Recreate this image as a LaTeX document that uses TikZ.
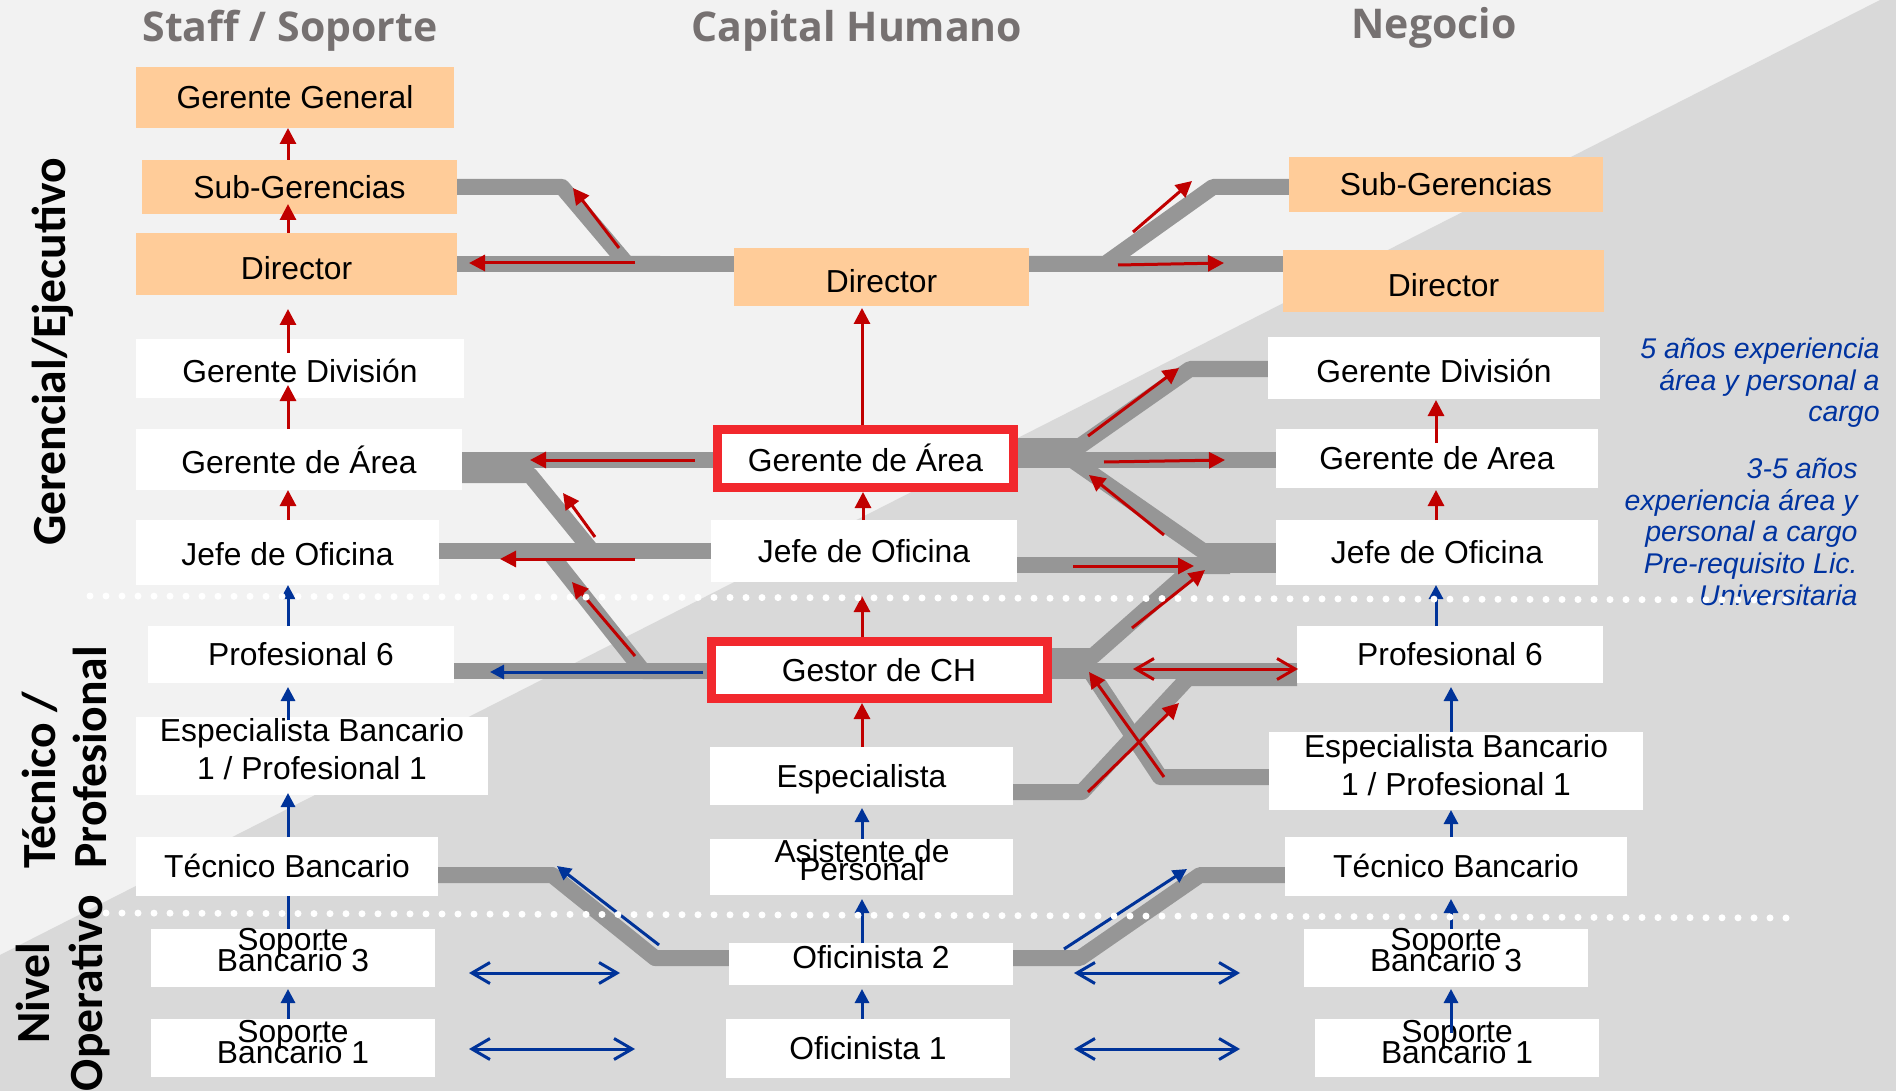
\documentclass[tikz,border=0pt]{standalone}
\usepackage{fontspec}
\setmainfont{Liberation Sans}
\newfontfamily\headfont{Open Sans}
\newfontfamily\sidefont{Carlito}
\usetikzlibrary{arrows.meta,fit}
\definecolor{bglight}{HTML}{F2F2F2}
\definecolor{bgdark}{HTML}{D9D9D9}
\definecolor{trackgray}{HTML}{969696}
\definecolor{peach}{HTML}{FFCC99}
\definecolor{redarr}{HTML}{C00000}
\definecolor{bluearr}{HTML}{003399}
\definecolor{redbox}{HTML}{F2282D}
\definecolor{headgray}{HTML}{767171}
\definecolor{bluetxt}{HTML}{0033A0}
\tikzset{
  trk/.style={draw=trackgray, line width=8pt, line join=round},
  btxt/.style={font=\fontsize{15.9pt}{19pt}\selectfont, inner sep=0pt, text height=11.4pt, text depth=0pt, anchor=center},
  obox/.style={fill=peach, inner sep=0pt},
  wbox/.style={fill=white, inner sep=0pt},
  rbox/.style={fill=white, draw=redbox, line width=4.5pt, inner sep=0pt},
  ltxt/.style={font=\fontsize{15.9pt}{19pt}\selectfont, inner sep=0pt, anchor=base},
  hd/.style={font=\headfont\bfseries\fontsize{20.5pt}{24pt}\selectfont, text=headgray, inner sep=0pt, anchor=base},
  side/.style={font=\sidefont\bfseries\fontsize{23.8pt}{28pt}\selectfont, text=black, inner sep=0pt, rotate=90},
  note/.style={font=\itshape\fontsize{14.25pt}{16pt}\selectfont, text=bluetxt, inner sep=0pt, anchor=base east},
  ra/.style={draw=redarr, line width=1.5pt, -{Triangle[length=8pt,width=8pt]}},
  ba/.style={draw=bluearr, line width=1.5pt, -{Triangle[length=7pt,width=7pt]}},
  bdd/.style={draw=bluearr, line width=1.5pt, {Straight Barb[length=9pt,width=10.5pt]}-{Straight Barb[length=9pt,width=10.5pt]}},
  rdd/.style={draw=redarr, line width=1.5pt, {Straight Barb[length=9pt,width=10.5pt]}-{Straight Barb[length=9pt,width=10.5pt]}},
  dots/.style={draw=white, line width=3.5pt, line cap=round, dash pattern=on 0pt off 8pt}
}
\begin{document}
\begin{tikzpicture}[x=0.5pt,y=-0.5pt]
\path[use as bounding box] (0,0) rectangle (1896,1091);
\fill[bglight] (0,0) rectangle (1896,1091);
\fill[bgdark] (1880,0) -- (1896,0) -- (1896,1091) -- (0,1091) -- (0,955) -- cycle;

% headers
\node[hd] (h1) at (290,42) {Staff / Soporte};
\node[hd] (h2) at (857,42) {Capital Humano};
\node[hd] (h3) at (1434,39) {Negocio};

% side labels
\node[side, anchor=base] (l1) at (65,352) {Gerencial/Ejecutivo};
\node[side, anchor=base west] (l2a) at (55,869) {Técnico /};
\node[side, anchor=base west] (l2b) at (106,869) {Profesional};
\node[side, anchor=base] (l3a) at (49,993) {Nivel};
\node[side, anchor=base] (l3b) at (102,993) {Operativo};

% tracks
\draw[trk] (457,187) -- (562,187) -- (627,264) -- (660,264);
\draw[trk] (457,264) -- (734,264);
\draw[trk] (1029,264) -- (1105,264) -- (1213,187) -- (1289,187);
\draw[trk] (1029,264) -- (1283,264);
\draw[trk] (462,460) -- (713,460);
\draw[trk] (462,475) -- (530,475) -- (592,551) -- (620,551);
\draw[trk] (439,551) -- (711,551);
\draw[trk] (548,551) -- (643,671) -- (680,671);
\draw[trk] (454,671) -- (707,671);
\draw[trk] (1018,446) -- (1080,446) -- (1190,369) -- (1268,369);
\draw[trk] (1018,460) -- (1276,460);
\draw[trk] (1018,455) -- (1065,455) -- (1203,551) -- (1276,551);
\draw[trk] (1017,565) -- (1276,565);
\draw[trk] (1051,656) -- (1093,656) -- (1195,566) -- (1230,566);
\draw[trk] (1051,671) -- (1297,671);
\draw[trk] (1051,668) -- (1088,668) -- (1160,777) -- (1270,777);
\draw[trk] (1013,792) -- (1082,792) -- (1188,678) -- (1297,678);
\draw[trk] (438,875) -- (552,875) -- (655,958) -- (729,958);
\draw[trk] (1013,958) -- (1080,958) -- (1200,875) -- (1285,875);

% arrow hidden under box
\draw[ba] (288,929) -- (288,880);

% left column boxes
\node[obox, fit={(136,67) (454,128)}] (sgg) {};
\node[btxt] (sgg-t) at (sgg.center) {Gerente General};
\node[obox, fit={(142,160) (457,214)}] (ssub) {};
\node[btxt] (ssub-t) at (ssub.center) {Sub-Gerencias};
\node[obox, fit={(136,233) (457,295)}] (sdir) {};
\node[btxt] (sdir-t) at ([yshift=-2pt]sdir.center) {Director};
\node[wbox, fit={(136,339) (464,398)}] (sgdiv) {};
\node[btxt] (sgdiv-t) at ([yshift=-1.5pt]sgdiv.center) {Gerente División};
\node[wbox, fit={(136,429) (462,490)}] (sgarea) {};
\node[btxt] (sgarea-t) at ([yshift=-1.5pt]sgarea.center) {Gerente de Área};
\node[wbox, fit={(136,520) (439,585)}] (sjefe) {};
\node[btxt] (sjefe-t) at ([yshift=-1pt]sjefe.center) {Jefe de Oficina};
\node[wbox, fit={(148,626) (454,683)}] (sprof) {};
\node[btxt] (sprof-t) at (sprof.center) {Profesional 6};
\node[wbox, fit={(136,717) (488,795)}] (sesp) {};
\node[ltxt] (sesp1) at (312,741) {Especialista Bancario};
\node[ltxt] (sesp2) at (312,779) {1 / Profesional 1};
\node[wbox, fit={(136,837) (438,896)}] (stec) {};
\node[btxt] (stec-t) at (stec.center) {Técnico Bancario};
\node[wbox, fit={(151,929) (435,987)}] (ssop3) {};
\node[ltxt] (ssop3a) at (293,950) {Soporte};
\node[ltxt] (ssop3b) at (293,971) {Bancario 3};
\node[wbox, fit={(151,1019) (435,1077)}] (ssop1) {};
\node[ltxt] (ssop1a) at (293,1042) {Soporte};
\node[ltxt] (ssop1b) at (293,1063) {Bancario 1};

% center column boxes
\node[obox, fit={(734,248) (1029,306)}] (cdir) {};
\node[btxt] (cdir-t) at ([yshift=-2pt]cdir.center) {Director};
\node[rbox, fit={(717.5,429.5) (1013.5,487.5)}] (cgarea) {};
\node[btxt] (cgarea-t) at ([yshift=-1pt]cgarea.center) {Gerente de Área};
\node[wbox, fit={(711,520) (1017,582)}] (cjefe) {};
\node[btxt] (cjefe-t) at (cjefe.center) {Jefe de Oficina};
\node[rbox, fit={(711,641.5) (1047,698.5)}] (cgest) {};
\node[btxt] (cgest-t) at (cgest.center) {Gestor de CH};
\node[wbox, fit={(710,747) (1013,805)}] (cesp) {};
\node[btxt] (cesp-t) at (cesp.center) {Especialista};
\node[wbox, fit={(710,839) (1013,895)}] (casis) {};
\node[ltxt] (casis1) at (862,862) {Asistente de};
\node[ltxt] (casis2) at (862,880) {Personal};
\node[wbox, fit={(729,943) (1013,985)}] (cof2) {};
\node[ltxt] (cof2t) at (871,968) {Oficinista 2};
\node[wbox, fit={(726,1019) (1010,1078)}] (cof1) {};
\node[btxt] (cof1-t) at (cof1.center) {Oficinista 1};

% right column boxes
\node[obox, fit={(1289,157) (1603,212)}] (nsub) {};
\node[btxt] (nsub-t) at (nsub.center) {Sub-Gerencias};
\node[obox, fit={(1283,250) (1604,312)}] (ndir) {};
\node[btxt] (ndir-t) at ([yshift=-2pt]ndir.center) {Director};
\node[wbox, fit={(1268,337) (1600,399)}] (ngdiv) {};
\node[btxt] (ngdiv-t) at ([yshift=-1.5pt]ngdiv.center) {Gerente División};
\node[wbox, fit={(1276,429) (1598,488)}] (ngarea) {};
\node[btxt] (ngarea-t) at (ngarea.center) {Gerente de Area};
\node[wbox, fit={(1276,520) (1598,585)}] (njefe) {};
\node[btxt] (njefe-t) at (njefe.center) {Jefe de Oficina};
\node[wbox, fit={(1297,626) (1603,683)}] (nprof) {};
\node[btxt] (nprof-t) at (nprof.center) {Profesional 6};
\node[wbox, fit={(1269,732) (1643,810)}] (nesp) {};
\node[ltxt] (nesp1) at (1456,757) {Especialista Bancario};
\node[ltxt] (nesp2) at (1456,795) {1 / Profesional 1};
\node[wbox, fit={(1285,837) (1627,896)}] (ntec) {};
\node[btxt] (ntec-t) at (ntec.center) {Técnico Bancario};
\node[wbox, fit={(1304,929) (1588,987)}] (nsop3) {};
\node[ltxt] (nsop3a) at (1446,950) {Soporte};
\node[ltxt] (nsop3b) at (1446,971) {Bancario 3};
\node[wbox, fit={(1315,1019) (1599,1077)}] (nsop1) {};
\node[ltxt] (nsop1a) at (1457,1042) {Soporte};
\node[ltxt] (nsop1b) at (1457,1063) {Bancario 1};

% notes
\node[note] (n1a) at (1880,358) {5 años experiencia};
\node[note] (n1b) at (1880,390) {área y personal a};
\node[note] (n1c) at (1880,422) {cargo};
\node[note] (n2a) at (1858,478) {3-5 años};
\node[note] (n2b) at (1858,510) {experiencia área y};
\node[note] (n2c) at (1858,541) {personal a cargo};
\node[note] (n2d) at (1858,573) {Pre-requisito Lic.};
\node[note] (n2e) at (1858,605) {Universitaria};

% top arrows
\draw[ra] (619,248) -- (573,188);
\draw[ra] (635,263) -- (469,263);
\draw[ra] (1133,232) -- (1192,181);
\draw[ra] (1118,265) -- (1224,263);

% center verticals
\draw[ra] (862,425) -- (862,308);
\draw[ra] (863,520) -- (863,492);
\draw[ra] (862,637) -- (862,596);
\draw[ra] (862,747) -- (862,703);
\draw[ba] (862,839) -- (862,808);
\draw[ba] (862,943) -- (862,899);
\draw[ba] (862,1019) -- (862,989);

% left verticals
\draw[ra] (288,160) -- (288,128);
\draw[ra] (288,233) -- (288,204);
\draw[ra] (288,353) -- (288,309);
\draw[ra] (288,429) -- (288,385);
\draw[ra] (288,520) -- (288,490);
\draw[ba] (288,626) -- (288,585);
\draw[ba] (288,720) -- (288,687);
\draw[ba] (288,837) -- (288,793);
\draw[ba] (288,1019) -- (288,989);

% right verticals
\draw[ra] (1436,443) -- (1436,400);
\draw[ra] (1436,520) -- (1436,490);
\draw[ba] (1436,626) -- (1436,585);
\draw[ba] (1451,732) -- (1451,687);
\draw[ba] (1451,837) -- (1451,810);
\draw[ba] (1451,929) -- (1451,899);
\draw[ba] (1451,1033) -- (1451,989);

% left middle
\draw[ra] (695,460) -- (530,460);
\draw[ra] (595,537) -- (563,493);
\draw[ra] (635,559) -- (500,559);
\draw[ra] (635,656) -- (572,582);
\draw[ba] (703,672) -- (490,672);

% right middle
\draw[ra] (1088,436) -- (1179,368);
\draw[ra] (1104,462) -- (1225,460);
\draw[ra] (1164,535) -- (1089,475);
\draw[ra] (1073,566) -- (1194,566);
\draw[ra] (1132,628) -- (1205,570);
\draw[rdd] (1133,669) -- (1298,669);
\draw[ra] (1164,777) -- (1089,672);
\draw[ra] (1088,792) -- (1179,703);

% bottom
\draw[ba] (659,945) -- (557,866);
\draw[ba] (1064,949) -- (1187,869);
\draw[bdd] (469,973) -- (620,973);
\draw[bdd] (469,1049) -- (635,1049);
\draw[bdd] (1074,973) -- (1240,973);
\draw[bdd] (1074,1049) -- (1240,1049);

% dotted separators
\draw[dots] (90,596) -- (1799,600);
\draw[dots] (106,913) -- (1799,918);
\end{tikzpicture}
\end{document}
